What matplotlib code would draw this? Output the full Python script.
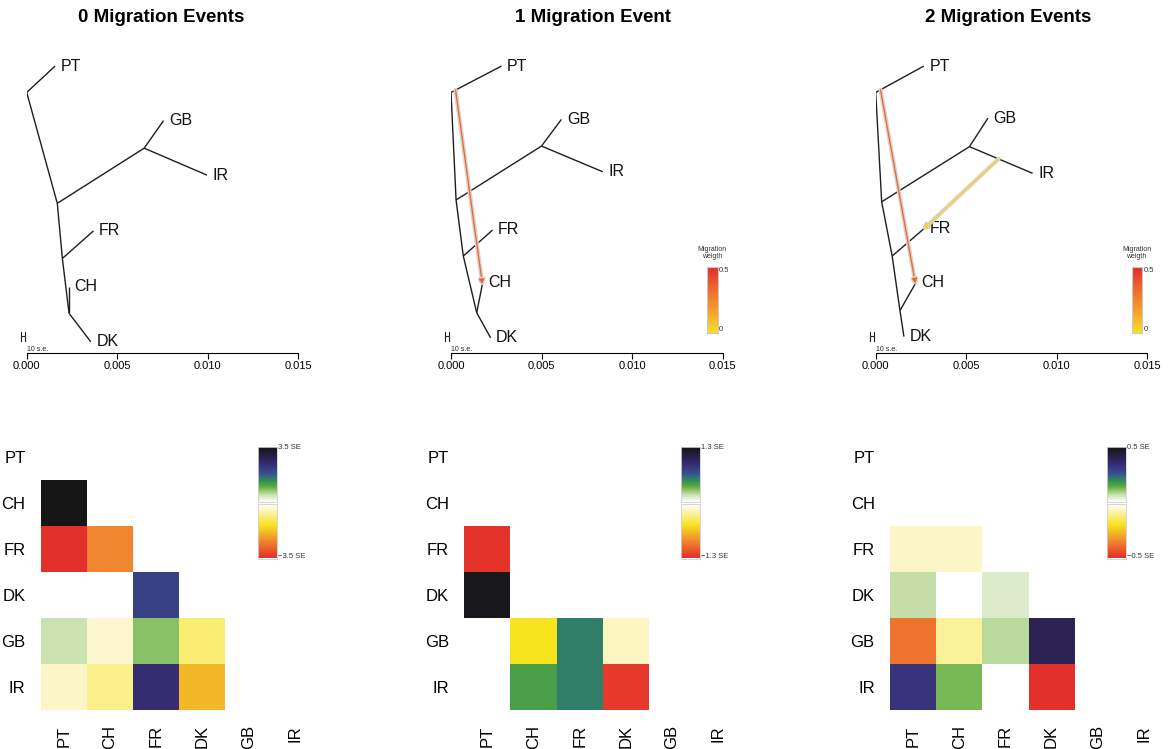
import matplotlib
matplotlib.use('Agg')
import matplotlib.pyplot as plt
import matplotlib.patheffects as pe
from matplotlib.colors import LinearSegmentedColormap, Normalize
import numpy as np

W, H = 1169, 749

titles = ['0 Migration Events', '1 Migration Event', '2 Migration Events']
pops = ['PT', 'CH', 'FR', 'DK', 'GB', 'IR']

# tree: nodes, edges, drift (x) and vertical position (y) per panel
node_names = ['root', 'PT', 'A', 'GBIR', 'GB', 'IR', 'B', 'FR', 'C', 'CH', 'DK']
edges = [('root', 'PT'), ('root', 'A'), ('A', 'GBIR'), ('GBIR', 'GB'), ('GBIR', 'IR'),
         ('A', 'B'), ('B', 'FR'), ('B', 'C'), ('C', 'CH'), ('C', 'DK')]
leaves = ['PT', 'GB', 'IR', 'FR', 'CH', 'DK']

drift_0 = [0.0, 0.00157, 0.00169, 0.00649, 0.00756, 0.00996, 0.00197, 0.00369, 0.00234, 0.00234, 0.00354]
ypos_0 = [0.860, 0.947, 0.494, 0.676, 0.767, 0.587, 0.312, 0.403, 0.131, 0.219, 0.037]
drift_1 = [0.0, 0.00279, 0.00028, 0.00500, 0.00610, 0.00839, 0.00068, 0.00230, 0.00142, 0.00175, 0.00219]
ypos_1 = [0.860, 0.947, 0.505, 0.683, 0.771, 0.598, 0.320, 0.406, 0.133, 0.232, 0.050]
drift_2 = [0.0, 0.00266, 0.00033, 0.00518, 0.00620, 0.00867, 0.00091, 0.00270, 0.00134, 0.00222, 0.00156]
ypos_2 = [0.860, 0.947, 0.499, 0.681, 0.775, 0.593, 0.320, 0.412, 0.140, 0.232, 0.054]

# migration edges: (src parent, src child, fraction, dst parent, dst child, fraction, weight)
migr_0 = []
migr_1 = [('root', 'PT', 0.09, 'C', 'CH', 0.95, 0.35)]
migr_2 = [('root', 'PT', 0.10, 'C', 'CH', 0.97, 0.35),
          ('GBIR', 'IR', 0.46, 'B', 'FR', 0.98, 0.03)]

# residuals, lower triangle row by row (CH; FR; DK; GB; IR)
resid_max = [3.5, 1.3, 0.5]
resid_0 = [3.5, -3.5, -2.45, 0.0, 0.0, 2.1, 0.45, -0.35, 0.77, -0.9, -0.42, -0.77, 2.45, -1.9, 0.0]
resid_1 = [0.0, -1.27, 0.0, 1.27, 0.0, 0.0, 0.0, -0.52, 0.55, -0.16, 0.0, 0.43, 0.55, -1.25, 0.0]
resid_2 = [0.0, -0.06, -0.06, 0.065, 0.0, 0.045, -0.38, -0.10, 0.075, 0.40, 0.33, 0.12, 0.0, -0.5, 0.0]

resid_cmap = LinearSegmentedColormap.from_list('resid', [
    (0.00, '#e3302a'), (0.14, '#ef8030'), (0.30, '#f7e41f'), (0.44, '#fbf6c6'),
    (0.50, '#ffffff'), (0.56, '#cfe3b4'), (0.64, '#5fad3a'), (0.70, '#2e8a5c'),
    (0.76, '#3a4f94'), (0.86, '#35286e'), (1.00, '#161616')], N=255)
migr_cmap = LinearSegmentedColormap.from_list('migr', ['#fbdc2a', '#f5a02c', '#ee6a2c', '#e2302a'])

trees = [(drift_0, ypos_0, migr_0), (drift_1, ypos_1, migr_1), (drift_2, ypos_2, migr_2)]
resids = [resid_0, resid_1, resid_2]

tree_left = [26.7, 451.0, 875.7]
grid_left = [40.7, 464.3, 890.0]
title_x = [161, 593, 1008]


def rect(x0, y0, x1, y1):
    return [x0 / W, 1 - y1 / H, (x1 - x0) / W, (y1 - y0) / H]


fig = plt.figure(figsize=(W / 100, H / 100), dpi=100)
sans = ['Liberation Sans', 'DejaVu Sans']

for k in range(3):
    drift, ypos, migr = trees[k]
    pos = dict(zip(node_names, zip(drift, ypos)))

    fig.text(title_x[k] / W, 1 - 17 / H, titles[k], ha='center', va='center',
             fontsize=13.5, fontweight='bold', family=sans)

    # tree panel
    x0 = tree_left[k]
    ax = fig.add_axes(rect(x0, 50, x0 + 271.5, 353))
    for a, b in edges:
        ax.plot([pos[a][0], pos[b][0]], [pos[a][1], pos[b][1]], color='#1e1e1e', lw=1.0, solid_capstyle='butt')
    for leaf in leaves:
        ax.annotate(leaf, pos[leaf], xytext=(4, 0), textcoords='offset points',
                    ha='left', va='center', fontsize=11.5, family=sans, color='#111111')
    for sp, sc, fs, dp, dc, fd, w in migr:
        src = (pos[sp][0] + fs * (pos[sc][0] - pos[sp][0]), pos[sp][1] + fs * (pos[sc][1] - pos[sp][1]))
        dst = (pos[dp][0] + fd * (pos[dc][0] - pos[dp][0]), pos[dp][1] + fd * (pos[dc][1] - pos[dp][1]))
        c = migr_cmap(w / 0.5)
        ann = ax.annotate('', xy=dst, xytext=src,
                          arrowprops=dict(arrowstyle='-|>', color=c, lw=0.9, mutation_scale=7,
                                          shrinkA=0, shrinkB=0))
        ann.arrow_patch.set_path_effects([pe.Stroke(linewidth=3.0, foreground='#dcd2ca'), pe.Normal()])
    # scale bar (10 s.e.)
    ax.plot([-0.00033, -0.00012], [0.055, 0.055], color='#222222', lw=0.8, clip_on=False)
    ax.plot([-0.00033, -0.00033], [0.040, 0.070], color='#222222', lw=0.8, clip_on=False)
    ax.plot([-0.00012, -0.00012], [0.040, 0.070], color='#222222', lw=0.8, clip_on=False)
    ax.text(0.0, 0.013, '10 s.e.', fontsize=5, family=sans, ha='left', va='center', color='#222222')
    ax.set_xlim(0, 0.015)
    ax.set_ylim(0, 1)
    ax.set_xticks([0.0, 0.005, 0.010, 0.015])
    ax.set_xticklabels(['0.000', '0.005', '0.010', '0.015'], family=sans)
    ax.set_yticks([])
    for s in ['left', 'top', 'right']:
        ax.spines[s].set_visible(False)
    ax.spines['bottom'].set_linewidth(0.8)
    ax.tick_params(axis='x', length=4, width=0.8, labelsize=8, pad=2)
    ax.patch.set_alpha(0)

    if migr:
        cx = x0 + 256
        cax = fig.add_axes(rect(cx, 267, cx + 10.5, 333))
        cax.imshow(np.linspace(1, 0, 100).reshape(-1, 1), cmap=migr_cmap, aspect='auto', extent=(0, 1, 0, 1))
        cax.set_xticks([])
        cax.set_yticks([])
        for s in cax.spines.values():
            s.set_color('#c8c8c8')
            s.set_linewidth(0.8)
        fig.text((cx + 5) / W, 1 - 253 / H, 'Migration\nweigth', fontsize=5, family=sans,
                 ha='center', va='center', linespacing=1.0, color='#333333')
        fig.text((cx + 12) / W, 1 - 270 / H, '0.5', fontsize=5.5, family=sans, ha='left', va='center', color='#333333')
        fig.text((cx + 12) / W, 1 - 330 / H, '0', fontsize=5.5, family=sans, ha='left', va='center', color='#333333')

    # residual heatmap
    n = len(pops)
    mat = np.full((n, n), np.nan)
    vals = iter(resids[k])
    for i in range(1, n):
        for j in range(i):
            mat[i, j] = next(vals)
    gl = grid_left[k]
    hx = fig.add_axes(rect(gl, 434, gl + 277, 710))
    hx.pcolormesh(np.arange(n + 1), np.arange(n + 1), np.ma.masked_invalid(mat),
                  cmap=resid_cmap, norm=Normalize(-resid_max[k], resid_max[k]), edgecolors='none')
    hx.set_xlim(0, n)
    hx.set_ylim(n, 0)
    hx.set_xticks(np.arange(n) + 0.5)
    hx.set_xticklabels(pops, rotation=90, family=sans, fontsize=12)
    hx.set_yticks(np.arange(n) + 0.5)
    hx.set_yticklabels(pops, family=sans, fontsize=12)
    hx.tick_params(length=0, pad=11)
    for s in hx.spines.values():
        s.set_visible(False)

    # split colour bar
    bx = gl + 217
    up = fig.add_axes(rect(bx, 447, bx + 19, 502))
    up.imshow(np.linspace(1, 0.5, 100).reshape(-1, 1), cmap=resid_cmap, vmin=0, vmax=1,
              aspect='auto', extent=(0, 1, 0, 1))
    lo = fig.add_axes(rect(bx, 504, bx + 19, 558.5))
    lo.imshow(np.linspace(0.5, 0, 100).reshape(-1, 1), cmap=resid_cmap, vmin=0, vmax=1,
              aspect='auto', extent=(0, 1, 0, 1))
    for b in (up, lo):
        b.set_xticks([])
        b.set_yticks([])
        for s in b.spines.values():
            s.set_color('#d0d0d0')
            s.set_linewidth(0.6)
    m = resid_max[k]
    fig.text((bx + 20) / W, 1 - 448 / H, f'{m} SE', fontsize=5.5, family=sans, ha='left', va='center', color='#333333')
    fig.text((bx + 20) / W, 1 - 557 / H, f'\u2212{m} SE', fontsize=5.5, family=sans, ha='left', va='center', color='#333333')

fig.savefig('out.png', dpi=100)
